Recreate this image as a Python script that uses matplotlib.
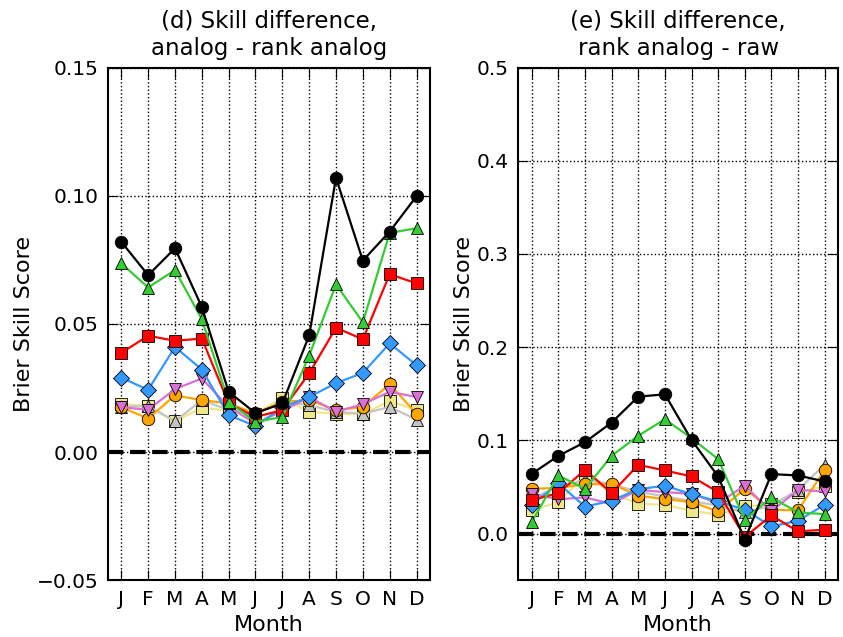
import numpy as np
import matplotlib
matplotlib.use("Agg")
import matplotlib.pyplot as plt

months = ["J", "F", "M", "A", "M", "J", "J", "A", "S", "O", "N", "D"]

# (d) analog - rank analog
d_black  = [0.082, 0.069, 0.0795, 0.0566, 0.0235, 0.0152, 0.019, 0.0455, 0.107, 0.0747, 0.086, 0.0998]
d_green  = [0.0736, 0.0642, 0.071, 0.0518, 0.0196, 0.0118, 0.0137, 0.0376, 0.0654, 0.0506, 0.0855, 0.0873]
d_red    = [0.0387, 0.0454, 0.0434, 0.0443, 0.019, 0.0137, 0.0164, 0.0307, 0.0485, 0.044, 0.0694, 0.0658]
d_blue   = [0.029, 0.0243, 0.041, 0.0322, 0.0144, 0.0102, 0.0174, 0.0215, 0.0269, 0.0309, 0.0424, 0.0339]
d_violet = [0.0175, 0.0165, 0.0246, 0.0287, 0.0176, 0.0112, 0.016, 0.0215, 0.0157, 0.0187, 0.0235, 0.0215]
d_orange = [0.0175, 0.0131, 0.0221, 0.0203, 0.019, 0.015, 0.0196, 0.0203, 0.0164, 0.0176, 0.0265, 0.015]
d_gray   = [0.0176, 0.018, 0.012, 0.0203, 0.0164, 0.015, 0.0196, 0.0183, 0.0157, 0.015, 0.0176, 0.0127]
d_khaki  = [0.0187, 0.018, 0.012, 0.0173, 0.0161, 0.015, 0.0211, 0.0157, 0.015, 0.0148, 0.0199, 0.0164]

# (e) rank analog - raw
e_black  = [0.0642, 0.0835, 0.0982, 0.1192, 0.147, 0.1495, 0.1006, 0.0614, -0.0064, 0.0639, 0.0625, 0.056]
e_green  = [0.0125, 0.0625, 0.048, 0.0835, 0.105, 0.1228, 0.1024, 0.080, 0.015, 0.0389, 0.0228, 0.021]
e_red    = [0.036, 0.0435, 0.0685, 0.0435, 0.0739, 0.0678, 0.0614, 0.0446, -0.0036, 0.0196, 0.0025, 0.0043]
e_blue   = [0.031, 0.054, 0.029, 0.0353, 0.0478, 0.0514, 0.0425, 0.0346, 0.0257, 0.0078, 0.0139, 0.031]
e_violet = [0.0425, 0.037, 0.0389, 0.032, 0.047, 0.0446, 0.0428, 0.0328, 0.0514, 0.0239, 0.047, 0.0453]
e_orange = [0.0482, 0.049, 0.0532, 0.0532, 0.0407, 0.0371, 0.034, 0.0239, 0.0482, 0.0257, 0.025, 0.0685]
e_gray   = [0.038, 0.05, 0.0578, 0.053, 0.045, 0.04, 0.035, 0.03, 0.0228, 0.03, 0.047, 0.0739]
e_khaki  = [0.0257, 0.0335, 0.0632, 0.0435, 0.032, 0.031, 0.0246, 0.0203, 0.0292, 0.0317, 0.0446, 0.0507]

styles = [
    ("black", "o"), ("#33cc33", "^"), ("red", "s"), ("#3399ff", "D"),
    ("orchid", "v"), ("orange", "o"), ("#c4c4c4", "^"), ("khaki", "s"),
]

panels = [
    ("(d) Skill difference,\nanalog - rank analog",
     [d_black, d_green, d_red, d_blue, d_violet, d_orange, d_gray, d_khaki],
     (-0.05, 0.15), [-0.05, 0.0, 0.05, 0.10, 0.15], ["\u22120.05", "0.00", "0.05", "0.10", "0.15"]),
    ("(e) Skill difference,\nrank analog - raw",
     [e_black, e_green, e_red, e_blue, e_violet, e_orange, e_gray, e_khaki],
     (-0.05, 0.5), [0.0, 0.1, 0.2, 0.3, 0.4, 0.5], ["0.0", "0.1", "0.2", "0.3", "0.4", "0.5"]),
]

plt.rcParams['font.family'] = ['DejaVu Sans']
fig = plt.figure(figsize=(8.43, 6.37), dpi=100)
positions = [[0.128, 0.089, 0.382, 0.805], [0.615, 0.089, 0.379, 0.805]]

x = np.arange(1, 13)
for pos, (title, series, ylim, yticks, ylabels) in zip(positions, panels):
    ax = fig.add_axes(pos)
    ax.axhline(0, color="black", ls="--", lw=3, zorder=1)
    for vals, (col, mk) in reversed(list(zip(series, styles))):
        ax.plot(x, vals, color=col, lw=1.6, marker=mk, markersize=9 if mk != "D" else 8,
                markerfacecolor=col, markeredgecolor="black", markeredgewidth=0.6, zorder=3)
    ax.set_xlim(0.5, 12.5)
    ax.set_ylim(*ylim)
    ax.set_xticks(x)
    ax.set_xticklabels(months)
    ax.set_yticks(yticks)
    ax.set_yticklabels(ylabels)
    ax.grid(True, color="black", ls=":", lw=1)
    ax.tick_params(direction="in", top=True, right=True, length=7, labelsize=14.5, pad=7)
    for s in ax.spines.values():
        s.set_linewidth(1.5)
    ax.set_xlabel("Month", fontsize=16, labelpad=4)
    ax.set_ylabel("Brier Skill Score", fontsize=16, labelpad=2)
    ax.set_title(title, fontsize=16.5, pad=9)

fig.savefig("out.png", dpi=100)
